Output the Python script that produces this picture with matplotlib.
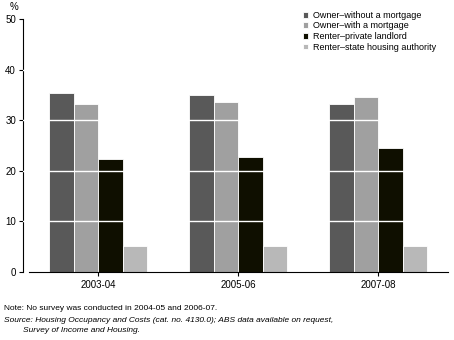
import numpy as np
import matplotlib
matplotlib.use('Agg')
import matplotlib.pyplot as plt

# Data (%)
years = ['2003-04', '2005-06', '2007-08']
series = ['Owner\u2013without a mortgage', 'Owner\u2013with a mortgage',
          'Renter\u2013private landlord', 'Renter\u2013state housing authority']
owner_no_mortgage = [35.4, 35.0, 33.3]
owner_mortgage = [33.3, 33.5, 34.5]
renter_private = [22.4, 22.8, 24.6]
renter_state = [5.1, 5.1, 5.1]
colors = ['#595959', '#a0a0a0', '#0f0f00', '#b8b8b8']

plt.rcParams['font.family'] = ['Liberation Sans', 'DejaVu Sans']

fig = plt.figure(figsize=(4.54, 3.40), dpi=100)
ax = fig.add_axes([23 / 454, 1 - 272 / 340, 425 / 454, 253 / 340])

x = np.arange(len(years))
w = 0.175
values = [owner_no_mortgage, owner_mortgage, renter_private, renter_state]
for i, (vals, col, name) in enumerate(zip(values, colors, series)):
    ax.bar(x + (i - 1.5) * w, vals, width=w, color=col, edgecolor='white',
           linewidth=0.6, label=name, zorder=2)

# white gridlines drawn over the bars
for yv in [10, 20, 30, 40]:
    ax.axhline(yv, color='white', linewidth=1.0, zorder=3)

ax.set_xlim(-0.537, 2.5)
ax.set_ylim(0, 50)
ax.set_yticks([0, 10, 20, 30, 40, 50])
ax.set_xticks(x)
ax.set_xticklabels(years)
ax.tick_params(axis='y', length=3, width=0.8, labelsize=7, pad=2)
ax.tick_params(axis='x', length=3, width=0.8, labelsize=7, pad=3)
for s in ['top', 'right']:
    ax.spines[s].set_visible(False)
ax.spines['left'].set_linewidth(0.8)
ax.spines['bottom'].set_linewidth(0.8)
ax.spines['bottom'].set_bounds(-0.494, 2.5)

fig.text(10 / 454, 1 - 7 / 340, '%', fontsize=7, ha='left', va='center')

leg = ax.legend(loc='upper left', bbox_to_anchor=(0.648, 1.05), frameon=False,
                fontsize=6.5, handlelength=0.6, handleheight=0.6,
                handletextpad=0.5, labelspacing=0.18, borderpad=0)

fig.text(4 / 454, 1 - 308 / 340, 'Note: No survey was conducted in 2004-05 and 2006-07.',
         fontsize=6, ha='left', va='center')
fig.text(4 / 454, 1 - 321 / 340,
         'Source: Housing Occupancy and Costs (cat. no. 4130.0); ABS data available on request,',
         fontsize=6, style='italic', ha='left', va='center')
fig.text(23 / 454, 1 - 330 / 340, 'Survey of Income and Housing.',
         fontsize=6, style='italic', ha='left', va='center')

fig.savefig('out.png', dpi=100)
